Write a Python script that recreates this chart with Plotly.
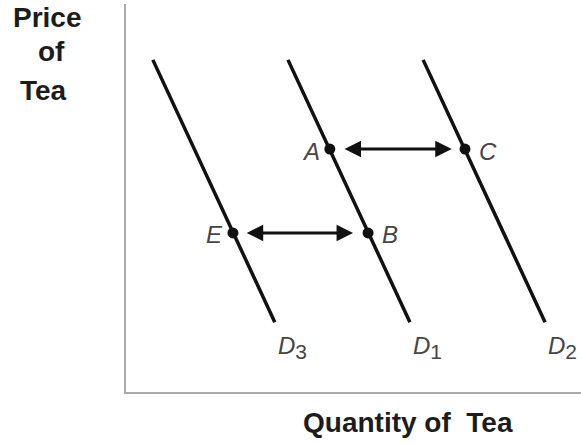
import plotly.graph_objects as go

# demand curves: quantity at the high-price end and at the low-price end
curve_names = ["D3", "D1", "D2"]
q_high = [0.59, 3.56, 6.53]
q_low = [3.27, 6.24, 9.21]
p_high = 8.56
p_low = 1.80

# labelled points
point_names = ["A", "C", "E", "B"]
point_q = [4.48, 7.45, 2.35, 5.32]
point_p = [6.26, 6.26, 4.10, 4.10]

# double-headed shift arrows (from, to, price level)
arrow_from = [4.77, 2.62]
arrow_to = [7.16, 4.99]
arrow_p = [6.26, 4.10]

fig = go.Figure()

for name, qh, ql in zip(curve_names, q_high, q_low):
    fig.add_trace(go.Scatter(x=[qh, ql], y=[p_high, p_low], mode="lines",
                             line=dict(color="#111111", width=3.5),
                             name=name, hoverinfo="skip"))

fig.add_trace(go.Scatter(x=point_q, y=point_p, mode="markers",
                         marker=dict(color="#111111", size=11),
                         hoverinfo="skip"))

for a, b, p in zip(arrow_from, arrow_to, arrow_p):
    fig.add_annotation(x=b, y=p, ax=a, ay=p, xref="x", yref="y", axref="x", ayref="y",
                       text="", showarrow=True, arrowhead=2, arrowsize=1.1,
                       arrowwidth=3, arrowcolor="#111111", arrowside="end+start")

lab_font = dict(family="Liberation Sans, Arial", size=24, color="#454545")
# point letters: left side for A and E, right side for C and B
offsets = {"A": (-8, "right"), "E": (-8, "right"), "C": (12, "left"), "B": (12, "left")}
for name, q, p in zip(point_names, point_q, point_p):
    dx, anchor = offsets[name]
    fig.add_annotation(x=q, y=p, text=f"<i>{name}</i>", showarrow=False,
                       xanchor=anchor, yanchor="middle", xshift=dx, yshift=-2,
                       font=lab_font)

for name, ql in zip(curve_names, q_low):
    fig.add_annotation(x=ql, y=p_low,
                       text=f"<i>D</i><sub><span style='font-size:21px'>{name[1]}</span></sub>",
                       showarrow=False, xanchor="left", yanchor="top",
                       xshift=1, yshift=-8, font=lab_font)

title_font = dict(family="Liberation Sans, Arial", size=28, color="#1c1c1c")
for txt, xp, yp in [("<b>Price</b>", 47, 18), ("<b>of</b>", 51, 51), ("<b>Tea</b>", 43, 90)]:
    fig.add_annotation(x=(xp - 126) / 455, y=(392 - yp) / 388, xref="paper", yref="paper",
                       text=txt, showarrow=False, xanchor="center", yanchor="middle",
                       font=title_font)
fig.add_annotation(x=(408 - 126) / 455, y=(392 - 422) / 388, xref="paper", yref="paper",
                   text="<b>Quantity of  Tea</b>", showarrow=False,
                   xanchor="center", yanchor="middle", font=title_font)

axis_style = dict(showline=True, linecolor="#a9a9a9", linewidth=2, showgrid=False,
                  zeroline=False, showticklabels=False, ticks="", range=[0, 10])
fig.update_xaxes(**axis_style)
fig.update_yaxes(**axis_style)

fig.update_layout(width=581, height=444, showlegend=False,
                  margin=dict(l=126, r=0, t=4, b=52),
                  plot_bgcolor="white", paper_bgcolor="white")

# drop the browser's default body margin so the figure sits at the page corner
fig.write_html("out.html", config={"displayModeBar": False},
               post_script="document.body.style.margin='0';")
